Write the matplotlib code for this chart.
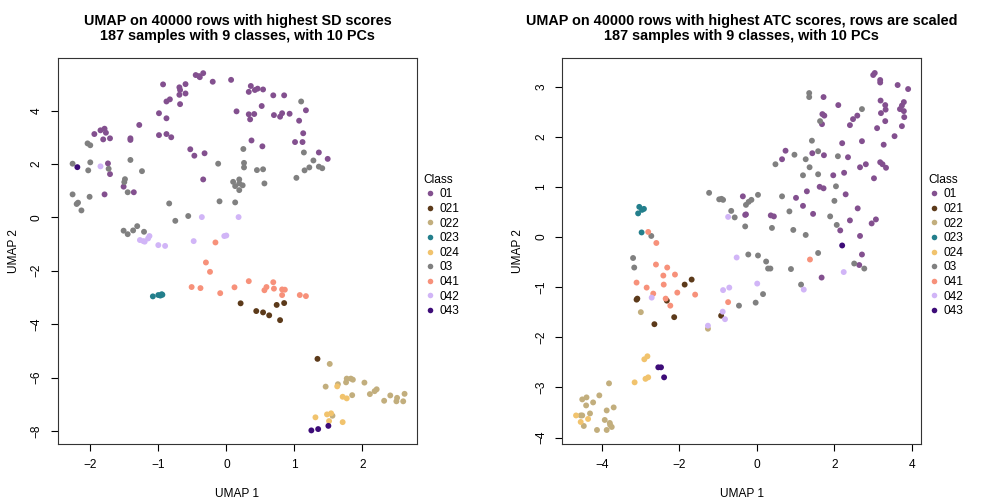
import numpy as np
import matplotlib.pyplot as plt
from matplotlib.lines import Line2D

plt.rcParams['font.family'] = ['Liberation Sans', 'DejaVu Sans']

classes = ["01", "021", "022", "023", "024", "03", "041", "042", "043"]
colors = ["#83508F", "#5C3A1A", "#C2AE7D", "#237F8C", "#F1C36D",
          "#808080", "#F7917A", "#D1B5F7", "#3D0C78"]

# left panel: UMAP on top-SD rows, (UMAP1, UMAP2) per class
sd_01 = [(-0.45, 5.33), (-0.40, 5.29), (-0.34, 5.40), (-0.39, 5.25), (-0.93, 4.98),
         (-0.69, 4.87), (-0.68, 4.77), (-0.60, 4.99), (-0.69, 4.59), (-0.60, 4.64),
         (-0.88, 4.34), (-0.83, 4.42), (-0.68, 4.24), (-0.20, 5.08), (0.07, 5.15),
         (0.15, 3.97), (-0.99, 3.90), (-0.88, 3.71), (-1.28, 3.46), (-1.94, 3.12),
         (-1.85, 3.26), (-1.79, 3.32), (-1.77, 3.17), (-1.81, 2.92), (-1.71, 2.96),
         (-1.41, 2.96), (-1.41, 2.90), (-0.99, 3.08), (-0.88, 3.12), (-0.81, 3.00),
         (-0.53, 2.55), (-0.47, 2.31), (-0.32, 2.40), (-1.74, 2.02), (-1.71, 1.62),
         (-0.34, 1.42), (-1.51, 1.15), (-1.36, 0.94), (-1.79, 0.86), (0.36, 4.92),
         (0.33, 4.70), (0.42, 4.77), (0.46, 4.82), (0.54, 4.79), (0.69, 4.57),
         (0.85, 4.57), (0.52, 4.17), (0.33, 3.86), (0.41, 3.87), (0.35, 3.67),
         (0.70, 3.83), (0.79, 3.77), (0.82, 3.90), (0.93, 3.88), (1.17, 4.01),
         (1.07, 3.62), (1.13, 3.15), (0.37, 2.88), (0.53, 2.66), (1.01, 2.82),
         (1.12, 2.82), (1.36, 2.43), (1.49, 2.19)]
sd_021 = [(0.21, -3.22), (0.44, -3.51), (0.54, -3.56), (0.63, -3.67), (0.74, -3.28),
          (0.85, -3.21), (0.79, -3.85), (1.34, -5.30)]
sd_022 = [(1.52, -5.49), (1.77, -6.04), (1.83, -6.04), (1.86, -6.08), (1.76, -6.18),
          (2.03, -6.19), (1.64, -6.25), (1.46, -6.34), (1.85, -6.66), (2.11, -6.62),
          (2.18, -6.51), (2.21, -6.44), (2.41, -6.67), (2.51, -6.76), (2.50, -6.89),
          (2.62, -6.61), (2.32, -6.87), (2.60, -6.89), (1.56, -7.43)]
sd_023 = [(-1.08, -2.96), (-1.00, -2.91), (-0.95, -2.88), (-0.94, -2.90), (-0.97, -2.93)]
sd_024 = [(1.63, -6.33), (1.71, -6.72), (1.77, -6.78), (1.31, -7.49), (1.48, -7.38),
          (1.54, -7.34), (1.51, -7.63), (1.71, -7.67)]
sd_03 = [(-2.04, 2.77), (-2.00, 2.70), (-2.26, 2.01), (-2.00, 2.06), (-2.03, 1.76),
         (-1.73, 1.82), (-1.41, 2.15), (-1.24, 1.73), (-1.49, 1.43), (-1.50, 1.32),
         (-1.45, 0.94), (-2.26, 0.86), (-2.01, 0.77), (-2.20, 0.50), (-2.18, 0.55),
         (-2.13, 0.26), (-0.84, 0.52), (-0.56, 0.05), (-0.75, -0.13), (-0.12, 2.01),
         (-0.10, 0.60), (0.10, 1.33), (0.13, 1.17), (0.19, 1.42), (0.19, 1.02),
         (0.24, 1.20), (0.19, 1.27), (0.13, 0.56), (-1.51, -0.50), (-1.45, -0.63),
         (-1.37, -0.49), (-1.31, -0.33), (-1.21, -0.54), (1.10, 4.34), (0.25, 2.56),
         (0.26, 2.04), (0.26, 1.87), (0.45, 1.77), (0.54, 1.80), (1.14, 2.43),
         (1.28, 2.13), (1.22, 1.87), (1.15, 1.76), (1.36, 1.90), (1.41, 1.84),
         (1.03, 1.48), (0.56, 1.27)]
sd_041 = [(-0.16, -0.94), (-0.30, -1.69), (-0.24, -2.04), (-0.51, -2.61), (-0.38, -2.65),
          (-0.09, -2.84), (0.12, -2.62), (0.33, -2.39), (0.69, -2.43), (0.59, -2.61),
          (0.56, -2.73), (0.70, -2.67), (0.82, -2.70), (0.86, -2.71), (0.82, -2.91),
          (1.08, -2.91), (1.17, -2.95)]
sd_042 = [(-1.85, 1.91), (-0.36, 0.01), (0.18, 0.01), (-1.27, -0.85), (-1.20, -0.91),
          (-1.15, -0.79), (-1.13, -0.70), (-1.22, -0.89), (-1.00, -1.04), (-0.90, -1.07),
          (-0.48, -0.89), (-0.03, -0.70), (0.00, -0.68)]
sd_043 = [(-2.19, 1.88), (1.25, -7.98), (1.35, -7.93), (1.50, -7.81)]

# right panel: UMAP on top-ATC rows (scaled)
atc_01 = [(3.04, 3.27), (3.00, 3.23), (3.18, 3.13), (3.18, 3.08), (3.63, 3.03),
          (3.90, 2.95), (1.72, 2.79), (2.10, 2.63), (3.19, 2.72), (3.31, 2.63),
          (3.32, 2.54), (3.79, 2.69), (3.74, 2.62), (3.69, 2.55), (3.79, 2.51),
          (3.20, 2.47), (3.80, 2.39), (3.31, 2.31), (3.74, 2.21), (3.10, 2.17),
          (3.55, 2.01), (1.69, 2.45), (1.74, 2.42), (1.68, 2.25), (2.59, 2.42),
          (2.48, 2.35), (2.40, 2.23), (2.20, 1.87), (2.71, 1.91), (3.27, 1.84),
          (0.74, 1.72), (0.65, 1.55), (1.43, 1.67), (1.73, 1.63), (2.35, 1.59),
          (2.81, 1.45), (2.66, 1.39), (3.18, 1.49), (3.24, 1.45), (3.33, 1.38),
          (2.25, 1.28), (1.97, 1.23), (3.02, 1.17), (1.62, 1.00), (1.72, 0.97),
          (1.29, 0.91), (2.29, 0.85), (1.01, 0.78), (1.19, 0.62), (2.60, 0.57),
          (-0.36, 0.81), (-0.28, 0.45), (-0.30, 0.44), (0.36, 0.43), (0.44, 0.41),
          (1.45, 0.46), (2.40, 0.33), (3.07, 0.35), (2.96, 0.27), (2.15, 0.13),
          (2.66, 0.02), (2.71, -0.35), (2.64, -0.56), (1.67, -0.81)]
atc_021 = [(-1.68, -0.85), (-1.86, -0.95), (-3.10, -1.25), (-3.08, -1.23), (-2.32, -1.27),
           (-2.13, -1.60), (-2.64, -1.74), (-0.92, -1.57)]
atc_022 = [(-2.99, -1.50), (-1.26, -1.83), (-3.81, -2.92), (-4.06, -3.16), (-4.50, -3.24),
           (-4.39, -3.20), (-4.22, -3.30), (-4.40, -3.36), (-3.69, -3.40), (-3.87, -3.46),
           (-4.30, -3.52), (-4.50, -3.56), (-4.54, -3.56), (-3.92, -3.65), (-3.79, -3.71),
           (-3.74, -3.79), (-3.78, -3.75), (-4.46, -3.77), (-4.12, -3.85), (-3.87, -3.85)]
atc_023 = [(-3.03, 0.60), (-2.91, 0.56), (-2.96, 0.54), (-3.06, 0.47), (-2.97, 0.09)]
atc_024 = [(-2.82, -2.38), (-2.90, -2.44), (-3.15, -2.90), (-2.87, -2.83), (-2.80, -2.80),
           (-4.66, -3.56), (-4.35, -3.63), (-4.54, -3.69)]
atc_03 = [(-1.23, 0.88), (-0.97, 0.75), (-2.72, 0.02), (-3.19, -0.42), (-3.16, -0.61),
          (1.35, 2.87), (1.35, 2.79), (2.71, 2.55), (1.63, 2.31), (1.42, 1.92),
          (0.97, 1.64), (1.26, 1.55), (1.58, 1.71), (2.09, 1.61), (0.48, 1.45),
          (1.36, 1.39), (1.19, 1.23), (1.58, 1.25), (2.04, 1.01), (-0.91, 0.76),
          (-0.87, 0.74), (0.03, 0.84), (-0.14, 0.74), (-0.21, 0.70), (-0.28, 0.64),
          (0.65, 0.81), (2.00, 0.72), (-0.66, 0.52), (-0.57, 0.39), (0.84, 0.51),
          (1.89, 0.41), (-0.30, 0.21), (0.39, 0.18), (0.94, 0.14), (1.26, 0.04),
          (2.06, 0.24), (-0.22, -0.35), (0.03, -0.37), (1.58, -0.32), (0.24, -0.49),
          (0.29, -0.63), (0.35, -0.63), (0.88, -0.64), (2.51, -0.53), (2.77, -0.63),
          (1.14, -0.95), (0.16, -1.14), (-0.03, -1.31), (-0.46, -1.37)]
atc_041 = [(-2.80, 0.10), (-2.59, -0.12), (-2.60, -0.55), (-2.31, -0.61), (-2.41, -0.77),
           (-2.11, -0.75), (-3.10, -0.91), (-2.84, -1.01), (-2.40, -0.95), (-2.67, -1.13),
           (-2.05, -1.11), (-2.35, -1.23), (-2.23, -1.37), (-1.59, -1.15), (1.37, -0.45),
           (-0.74, -1.30)]
atc_042 = [(-2.71, -1.21), (-1.26, -1.77), (-0.74, 0.40), (-0.52, -0.41), (0.01, -0.93),
           (-0.71, -1.01), (-0.87, -1.06), (1.21, -1.05), (2.24, -0.70), (-0.88, -1.49),
           (-0.82, -1.64)]
atc_043 = [(-2.54, -2.60), (-2.47, -2.60), (-2.39, -2.80), (2.20, -0.17)]

sd_points = [sd_01, sd_021, sd_022, sd_023, sd_024, sd_03, sd_041, sd_042, sd_043]
atc_points = [atc_01, atc_021, atc_022, atc_023, atc_024, atc_03, atc_041, atc_042, atc_043]

titles = ["UMAP on 40000 rows with highest SD scores\n187 samples with 9 classes, with 10 PCs",
          "UMAP on 40000 rows with highest ATC scores, rows are scaled\n187 samples with 9 classes, with 10 PCs"]

fig = plt.figure(figsize=(10.08, 5.04), dpi=100)
ax1 = fig.add_axes([0.0575, 0.119, 0.356, 0.766])
ax2 = fig.add_axes([0.558, 0.119, 0.356, 0.766])

panels = [(ax1, sd_points, (-2.475, 2.80), (-8.49, 5.97), [-2, -1, 0, 1, 2], [-8, -6, -4, -2, 0, 2, 4]),
          (ax2, atc_points, (-5.01, 4.24), (-4.13, 3.57), [-4, -2, 0, 2, 4], [-4, -3, -2, -1, 0, 1, 2, 3])]

for (ax, pts, xl, yl, xt, yt), title in zip(panels, titles):
    for cls, col, p in zip(classes, colors, pts):
        a = np.array(p)
        ax.scatter(a[:, 0], a[:, 1], s=18, color=col, edgecolors='none', label=cls)
    ax.set_xlim(*xl)
    ax.set_ylim(*yl)
    ax.set_xticks(xt)
    ax.set_yticks(yt)
    ax.tick_params(labelsize=8.6, length=5, width=0.8, pad=6)
    for lab in ax.get_yticklabels():
        lab.set_rotation(90)
        lab.set_va('center')
    for sp in ax.spines.values():
        sp.set_linewidth(0.8)
        sp.set_color('#333333')
    ax.set_xlabel("UMAP 1", fontsize=8.6, labelpad=12)
    ax.set_ylabel("UMAP 2", fontsize=8.6, labelpad=8)
    ax.set_title(title, fontsize=10.4, fontweight='bold', linespacing=1.05, pad=13)
    handles = [Line2D([], [], marker='o', linestyle='none', markersize=4,
                      markerfacecolor=c, markeredgecolor='none') for c in colors]
    bb = ax.get_position()
    leg = ax.legend(handles, classes, title="Class", loc='upper left',
                    bbox_to_anchor=(bb.x1 + 0.002, 0.665), bbox_transform=fig.transFigure,
                    frameon=False, fontsize=8.6, title_fontsize=8.6,
                    labelspacing=0.22, handletextpad=0.3, handlelength=1.0,
                    alignment='left', borderaxespad=0)

fig.savefig("out.png", dpi=100)
